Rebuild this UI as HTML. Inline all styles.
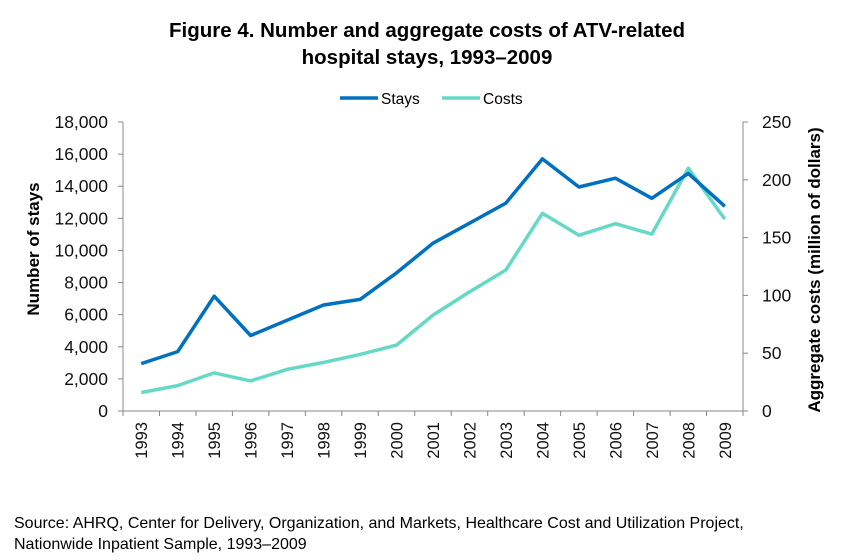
<!DOCTYPE html>
<html><head><meta charset="utf-8"><style>
body{margin:0;background:#fff;}
svg{display:block;font-family:"Liberation Sans",sans-serif;}
</style></head><body>
<svg id="s" width="853" height="560" viewBox="0 0 853 560" xmlns="http://www.w3.org/2000/svg">
<text x="427" y="37" text-anchor="middle" font-size="20.5" font-weight="bold" fill="#000">Figure 4. Number and aggregate costs of ATV-related</text>
<text x="427" y="64" text-anchor="middle" font-size="20.5" font-weight="bold" fill="#000">hospital stays, 1993–2009</text>
<line x1="340" y1="98" x2="378" y2="98" stroke="#0070c0" stroke-width="3.5"/>
<text x="381" y="104" font-size="15.5" fill="#000">Stays</text>
<line x1="442" y1="98" x2="480" y2="98" stroke="#66d9c6" stroke-width="3.5"/>
<text x="483" y="104" font-size="15.5" fill="#000">Costs</text>
<g id="ax" stroke="#888" stroke-width="1" fill="none"></g>
<g id="lb" font-size="17.5" fill="#111"></g>
<g id="yl" font-size="16.5" fill="#111"></g>
<text transform="translate(39,249) rotate(-90)" text-anchor="middle" font-size="17" font-weight="bold">Number of stays</text>
<text transform="translate(820,270) rotate(-90)" text-anchor="middle" font-size="17" font-weight="bold">Aggregate costs (million of dollars)</text>
<polyline id="c" fill="none" stroke="#66d9c6" stroke-width="3.5" stroke-linejoin="round"/>
<polyline id="st" fill="none" stroke="#0070c0" stroke-width="3.5" stroke-linejoin="round"/>
<text x="14" y="528" font-size="16" fill="#000">Source: AHRQ, Center for Delivery, Organization, and Markets, Healthcare Cost and Utilization Project,</text>
<text x="14" y="549" font-size="16" fill="#000">Nationwide Inpatient Sample, 1993–2009</text>
</svg>
<script>
var L=123,R=743,T=122,B=411,n=17,w=(R-L)/n;
var ax=document.getElementById('ax'),lb=document.getElementById('lb'),yl=document.getElementById('yl'),NS='http://www.w3.org/2000/svg';
function el(p,t,a,txt){var e=document.createElementNS(NS,t);for(var k in a)e.setAttribute(k,a[k]);if(txt!=null)e.textContent=txt;p.appendChild(e);}
el(ax,'line',{x1:L,y1:T,x2:L,y2:B});el(ax,'line',{x1:R,y1:T,x2:R,y2:B});el(ax,'line',{x1:L,y1:B,x2:R,y2:B});
for(var i=0;i<=9;i++){var y=B-(B-T)*i/9;el(ax,'line',{x1:L-5,y1:y,x2:L,y2:y});el(lb,'text',{x:L-15,y:y+6,'text-anchor':'end'},i==0?'0':(i*2000).toLocaleString('en-US'));}
for(var i=0;i<=5;i++){var y=B-(B-T)*i/5;el(ax,'line',{x1:R,y1:y,x2:R+5,y2:y});el(lb,'text',{x:R+19,y:y+6},String(i*50));}
for(var i=0;i<=n;i++){var x=L+w*i;el(ax,'line',{x1:x,y1:B,x2:x,y2:B+5});}
for(var i=0;i<n;i++){var x=L+w*(i+0.5);el(yl,'text',{transform:'translate('+(x+6)+','+(B+11)+') rotate(-90)','text-anchor':'end'},String(1993+i));}
var s=[2950,3700,7150,4700,5650,6600,6950,8600,10450,11700,12950,15700,13950,14500,13250,14800,12750];
var c=[16,22,33,26,36,42,49,57,83,103,122,171,152,162,153,210,166];
document.getElementById('st').setAttribute('points',s.map(function(v,i){return (L+w*(i+.5)).toFixed(1)+','+(B-(B-T)*v/18000).toFixed(1)}).join(' '));
document.getElementById('c').setAttribute('points',c.map(function(v,i){return (L+w*(i+.5)).toFixed(1)+','+(B-(B-T)*v/250).toFixed(1)}).join(' '));
</script>
</body></html>
